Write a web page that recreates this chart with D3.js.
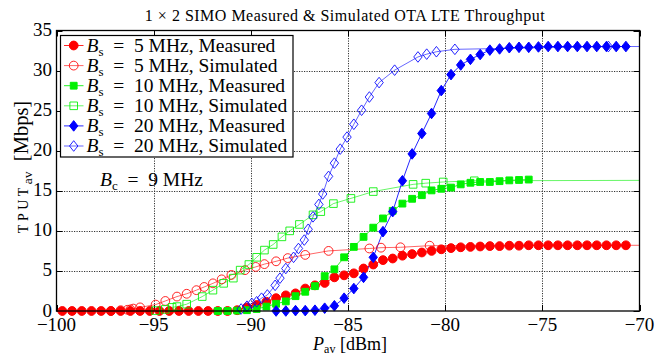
<!DOCTYPE html>
<html><head><meta charset="utf-8">
<script src="https://cdn.jsdelivr.net/npm/d3@7"></script>
<style>
body{margin:0;background:#fff}
text{font-family:"Liberation Serif","Times New Roman",serif;fill:#000;white-space:pre}
</style>
</head><body><svg id="c" width="666" height="357"></svg>
<script>
const xTicks = [-100,-95,-90,-85,-80,-75,-70];
const yTicks = [0,5,10,15,20,25,30,35];

const redMeasP = [-99.7,-99.2,-98.7,-98.2,-97.7,-97.2,-96.7,-96.2,-95.7,-95.2,-94.7,-94.2,-93.7,-93.2,-92.7,-92.2,-91.7,-91.2,-90.7,-90.2,-89.7,-89.2,-88.7,-88.2,-87.7,-87.2,-86.7,-86.2,-85.7,-85.2,-84.7,-84.2,-83.7,-83.2,-82.7,-82.2,-81.7,-81.2,-80.7,-80.2,-79.7,-79.2,-78.7,-78.2,-77.7,-77.2,-76.7,-76.2,-75.7,-75.2,-74.7,-74.2,-73.7,-73.2,-72.7,-72.2,-71.7,-71.2,-70.7];
const redMeasV = [0,0,0,0,0,0,0,0,0,0,0,0,0,0,0,0,0,0,0.1,0.45,0.75,1.15,1.6,1.95,2.2,2.8,3.2,3.5,4.2,4.45,4.7,5.3,5.8,6.35,6.55,6.9,7.1,7.3,7.5,7.7,7.85,7.95,8.0,8.05,8.1,8.1,8.15,8.15,8.2,8.2,8.2,8.2,8.2,8.2,8.2,8.2,8.2,8.2,8.2];

const redSimP = [-97.2,-96.7,-96.35,-96.2,-96.05,-95.7,-94.9,-94.4,-93.8,-93.3,-92.8,-92.4,-91.95,-91.5,-91.0,-90.3,-89.75,-89.3,-88.7,-88.1,-87.2,-86.0,-83.9,-83.3,-82.3,-80.8,-70];
const redSimV = [0,0.1,0.15,0.2,0.3,0.45,0.8,1.25,1.8,2.15,2.6,3.0,3.45,3.95,4.5,5.1,5.5,5.85,6.2,6.6,7.0,7.5,7.8,7.9,7.95,8.15,8.2];

const greenMeasP = [-91.7,-91.2,-90.7,-90.2,-89.7,-89.2,-88.7,-88.2,-87.7,-87.2,-86.7,-86.2,-85.7,-85.2,-84.7,-84.2,-83.7,-83.2,-82.7,-82.2,-81.7,-81.2,-80.7,-80.2,-79.7,-79.2,-78.7,-78.2,-77.7,-77.2,-76.7,-76.2,-75.7];
const greenMeasV = [0,0,0.05,0.1,0.25,0.55,0.9,1.2,1.85,2.4,3.1,4.35,5.2,6.7,8.0,9.25,10.4,11.55,12.5,13.4,14.0,14.45,15.05,15.25,15.4,15.8,16.0,16.1,16.1,16.2,16.3,16.35,16.4];

const greenSimP = [-94.9,-94.4,-94.05,-93.8,-93.3,-92.5,-91.95,-91.4,-90.9,-90.55,-90.1,-89.7,-89.3,-88.85,-88.4,-88.0,-87.5,-86.8,-86.4,-85.75,-84.85,-83.7,-81.65,-81.0,-80.1,-78.5,-70];
const greenSimV = [0.05,0.2,0.45,0.55,0.85,1.8,2.6,3.45,4.1,5.1,5.8,6.7,7.6,8.3,9.25,10.0,10.8,12.0,12.4,13.4,14.05,14.9,15.8,15.95,16.1,16.25,16.3];

const blueMeasP = [-88.7,-88.2,-87.7,-87.2,-86.7,-86.2,-85.7,-85.2,-84.7,-84.2,-83.7,-83.2,-82.7,-82.2,-81.7,-81.2,-80.7,-80.2,-79.7,-79.2,-78.7,-78.2,-77.7,-77.2,-76.7,-76.2,-75.7,-75.2,-74.7,-74.2,-73.7,-73.2,-72.7,-72.2,-71.7,-71.2,-70.7];
const blueMeasV = [0,0,0.05,0.05,0.1,0.35,0.65,1.6,2.8,4.2,6.7,9.9,12.4,16.25,19.6,22.15,24.65,27.5,29.5,30.7,31.4,32.0,32.55,32.7,32.85,32.9,32.9,32.95,33,33,33,33,33,33,33,33,33];

const blueSimP = [-90.5,-90.2,-89.95,-89.7,-89.45,-89.15,-88.75,-88.5,-88.2,-87.8,-87.55,-87.25,-87.05,-86.8,-86.5,-86.3,-86.0,-85.7,-85.4,-85.05,-84.7,-84.3,-83.9,-83.4,-82.6,-81.4,-80.95,-80.45,-79.5,-71.6,-70];
const blueSimV = [0.25,0.6,0.95,1.15,1.6,2.0,3.2,4.1,5.3,6.7,7.8,8.85,10.2,11.75,13.3,14.6,16.8,18.45,20.2,21.7,23.3,25.05,26.7,28.5,30.05,31.7,32.05,32.35,32.65,33.0,33.0];

const seriesNames = ["5 MHz, Measured","5 MHz, Simulated","10 MHz, Measured","10 MHz, Simulated","20 MHz, Measured","20 MHz, Simulated"];
const series = [
  {P:redMeasP, V:redMeasV, color:"#ff0000", marker:"circle", filled:true},
  {P:redSimP, V:redSimV, color:"#ff0000", marker:"circle", filled:false},
  {P:greenMeasP, V:greenMeasV, color:"#00f000", marker:"square", filled:true},
  {P:greenSimP, V:greenSimV, color:"#00f000", marker:"square", filled:false},
  {P:blueMeasP, V:blueMeasV, color:"#0000ff", marker:"diamond", filled:true},
  {P:blueSimP, V:blueSimV, color:"#0000ff", marker:"diamond", filled:false}
];

const L=56.5, R=639.5, T=30.5, B=311;
const svg = d3.select("#c");
svg.append("rect").attr("width",666).attr("height",357).attr("fill","#fff");
const x = d3.scaleLinear().domain([-100,-70]).range([L,R]);
const y = d3.scaleLinear().domain([0,35]).range([B,T]);

svg.append("defs").append("clipPath").attr("id","clipArea").append("rect")
  .attr("x",L).attr("y",T).attr("width",R-L).attr("height",B-T);

// grid
const grid = svg.append("g").attr("stroke","#333").attr("stroke-width",1).attr("stroke-dasharray","1.2,1.3");
grid.selectAll("line.gx").data(xTicks.slice(1,-1)).join("line").attr("class","gx")
  .attr("x1",d=>Math.round(x(d))+0.5).attr("x2",d=>Math.round(x(d))+0.5).attr("y1",T).attr("y2",B);
grid.selectAll("line.gy").data(yTicks.slice(1,-1)).join("line").attr("class","gy")
  .attr("y1",d=>Math.round(y(d))+0.5).attr("y2",d=>Math.round(y(d))+0.5).attr("x1",L).attr("x2",R);

// ticks (inward, all sides)
const tk = svg.append("g").attr("stroke","#000").attr("stroke-width",1);
xTicks.forEach(t=>{const xx=Math.round(x(t))+0.5;
  tk.append("line").attr("x1",xx).attr("x2",xx).attr("y1",B).attr("y2",B-6);
  tk.append("line").attr("x1",xx).attr("x2",xx).attr("y1",T).attr("y2",T+6);});
yTicks.forEach(t=>{const yy=Math.round(y(t))+0.5;
  tk.append("line").attr("y1",yy).attr("y2",yy).attr("x1",L).attr("x2",L+6);
  tk.append("line").attr("y1",yy).attr("y2",yy).attr("x1",R).attr("x2",R-6);});

// tick labels
const fmt = v => v<0 ? "\u2212"+Math.abs(v) : ""+v;
svg.selectAll("text.xt").data(xTicks).join("text").attr("class","xt").attr("x",d=>x(d)).attr("y",331).attr("text-anchor","middle").attr("font-size",19).text(fmt);
svg.selectAll("text.yt").data(yTicks).join("text").attr("class","yt").attr("x",52).attr("y",d=>y(d)+5.5).attr("text-anchor","end").attr("font-size",19).text(fmt);

// markers
function markerPath(type, filled){
  if(type==="circle") return d3.symbol().type(d3.symbolCircle).size(Math.PI*4.4*4.4)();
  if(type==="square"){const h = filled?3.4:3.8; return "M"+(-h)+","+(-h)+"H"+h+"V"+h+"H"+(-h)+"Z";}
  const w=4.2,hh=5.3; return "M0,"+(-hh)+"L"+w+",0L0,"+hh+"L"+(-w)+",0Z";
}

const linesG = svg.append("g").attr("clip-path","url(#clipArea)");
const lineGen = d3.line().x(d=>x(d.p)).y(d=>y(d.v));
series.forEach(s=>{
  const pts = s.P.map((p,i)=>({p:p, v:s.V[i]}));
  linesG.append("path").datum(pts).attr("d",lineGen).attr("fill","none").attr("stroke",s.color)
    .attr("stroke-width",1).attr("opacity", s.filled?0.85:0.6);
});
const marksG = svg.append("g").attr("class","marks");
series.forEach(s=>{
  const pts = s.P.map((p,i)=>({p:p, v:s.V[i]})).filter(d=>d.p < -70);
  marksG.append("g").selectAll("path").data(pts).join("path")
    .attr("d", markerPath(s.marker, s.filled))
    .attr("transform", d=>"translate("+x(d.p)+","+y(d.v)+")")
    .attr("fill", s.filled ? s.color : "none")
    .attr("stroke", s.color).attr("stroke-width",1)
    .attr("opacity", s.filled?1:0.85);
});

// axes box
svg.append("rect").attr("x",L).attr("y",T).attr("width",R-L).attr("height",B-T)
  .attr("fill","none").attr("stroke","#000").attr("stroke-width",1.3);

// legend
const lg = svg.append("g");
lg.append("rect").attr("x",60.5).attr("y",35.5).attr("width",232.5).attr("height",121.5).attr("fill","#fff").attr("stroke","#000").attr("stroke-width",1.2);
series.forEach((s,i)=>{
  const cy = 45.5 + i*20.1;
  lg.append("line").attr("x1",64).attr("x2",83.5).attr("y1",cy).attr("y2",cy).attr("stroke",s.color).attr("opacity", s.filled?0.85:0.6);
  lg.append("path").attr("d",markerPath(s.marker,s.filled)).attr("transform","translate(73.7,"+cy+")")
    .attr("fill", s.filled? s.color : "none").attr("stroke", s.color).attr("opacity", s.filled?1:0.85);
  const t = lg.append("text").attr("x",86.5).attr("y",cy+6.3).attr("font-size",19.5);
  t.append("tspan").attr("font-style","italic").text("B");
  t.append("tspan").attr("font-size",13).attr("dy",4).text("s");
  t.append("tspan").attr("dy",-4).text("  =  " + seriesNames[i]);
});

// title
svg.append("text").attr("x",345).attr("y",20.5).attr("text-anchor","middle").attr("font-size",16).attr("letter-spacing",0.5).text("1 \u00d7 2 SIMO Measured & Simulated OTA LTE Throughput");

// annotation
const an = svg.append("text").attr("x",100).attr("y",186).attr("font-size",19.5);
an.append("tspan").attr("font-style","italic").text("B");
an.append("tspan").attr("font-size",13).attr("dy",4).text("c");
an.append("tspan").attr("dy",-4).text("  =  9 MHz");

// x label
const xl = svg.append("text").attr("x",350).attr("y",350).attr("text-anchor","middle").attr("font-size",18);
xl.append("tspan").attr("font-style","italic").text("P");
xl.append("tspan").attr("font-size",12).attr("dy",3).text("av");
xl.append("tspan").attr("dy",-3).text(" [dBm]");

// y label
const yl = svg.append("text").attr("transform","translate(28,167) rotate(-90)").attr("text-anchor","middle").attr("font-size",20.5);
yl.append("tspan").attr("font-size",14).attr("letter-spacing",3.5).text("TPUT");
yl.append("tspan").attr("font-size",13.5).attr("dy",4).text("av");
yl.append("tspan").attr("dy",-4).text("  [Mbps]");
</script>
</body></html>
